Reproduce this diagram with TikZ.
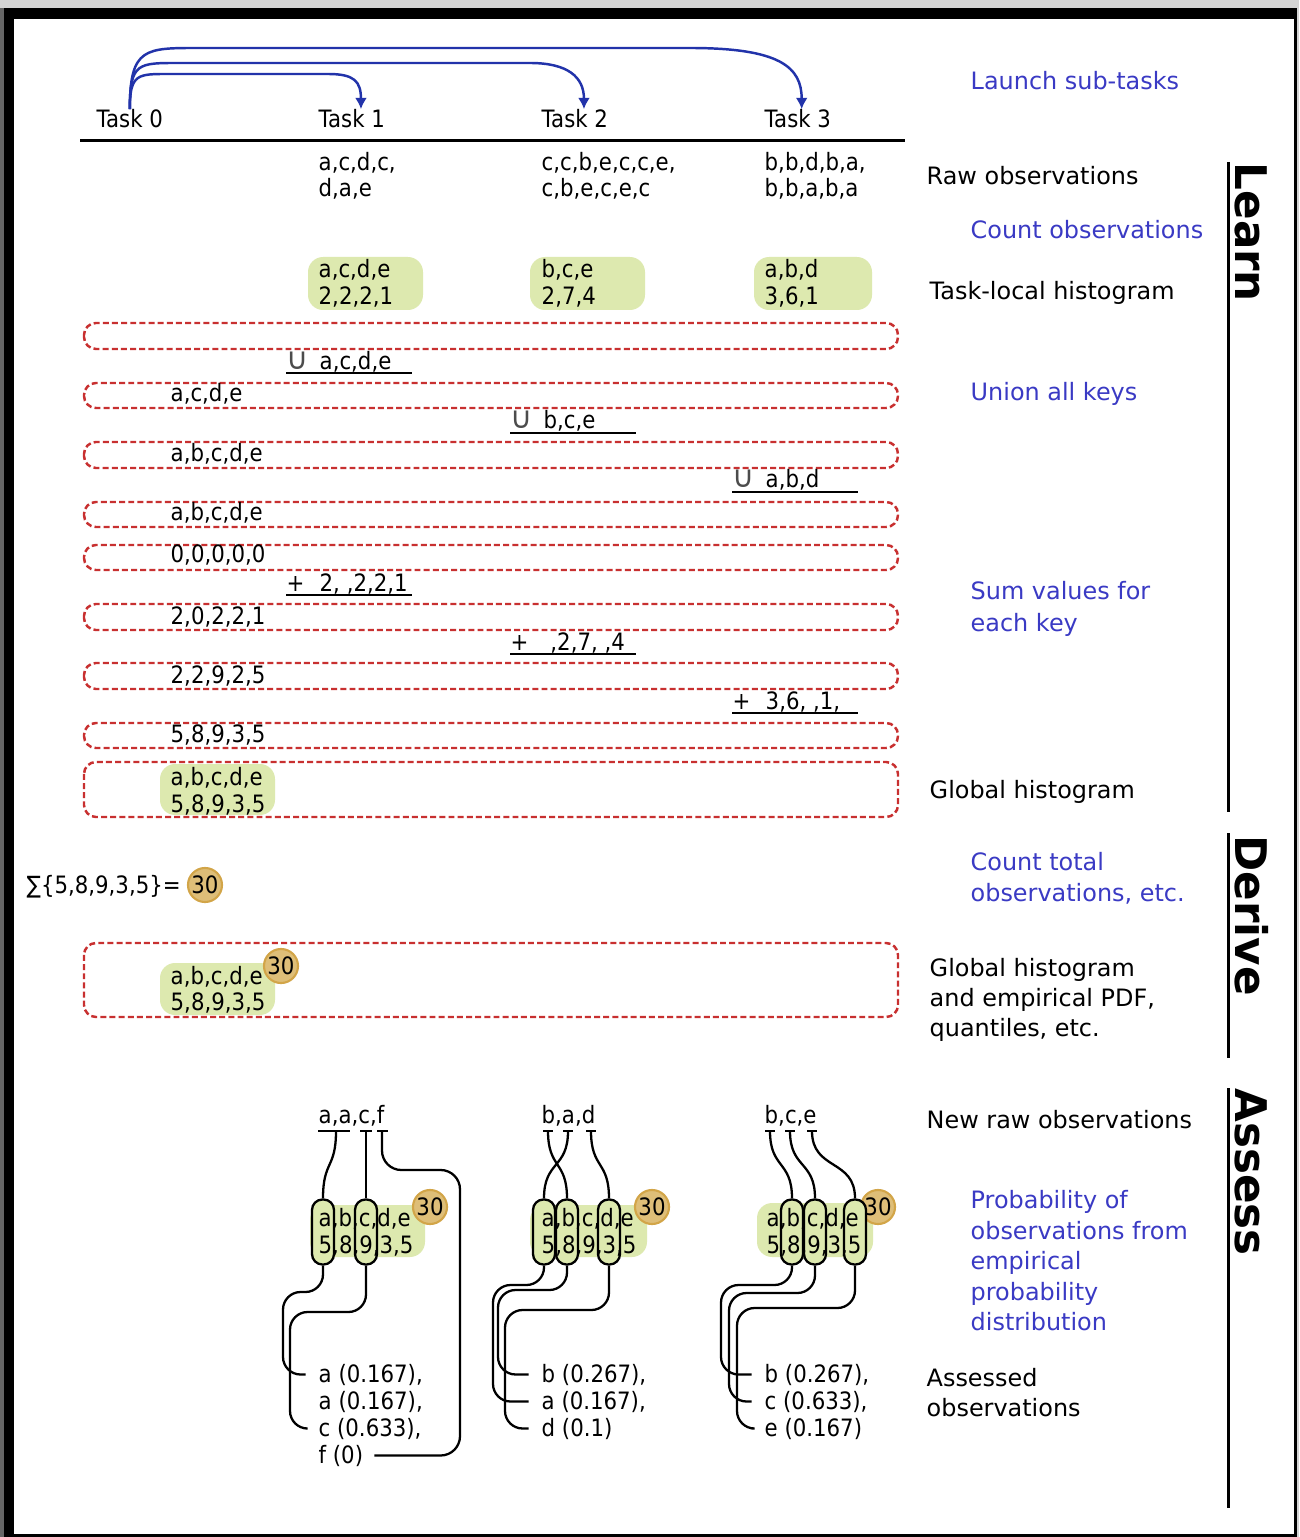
\documentclass[tikz,border=0pt]{standalone}
\usepackage{fontspec}
\setmainfont{DejaVu Sans}
\newfontfamily\datfont[FakeStretch=0.89]{DejaVu Sans}
\usetikzlibrary{arrows.meta,calc}
\definecolor{lblue}{HTML}{3A3AC4}
\definecolor{arrblue}{HTML}{2233AA}
\definecolor{dashred}{HTML}{C83030}
\definecolor{histgreen}{HTML}{DDE9AF}
\definecolor{totfill}{HTML}{DEBE78}
\definecolor{totdraw}{HTML}{D2A548}
\definecolor{framegray}{HTML}{D4D4D4}

\begin{document}
\begin{tikzpicture}[x=0.01cm, y=-0.01cm,
    lbl/.style={font=\fontsize{6.8}{8}\selectfont, anchor=base west, inner sep=0pt},
    blbl/.style={lbl, text=lblue},
    dat/.style={font=\datfont\fontsize{6.8}{8}\selectfont, anchor=base west, inner sep=0pt},
    cup/.style={font=\fontsize{8.6}{9}\selectfont, text=black!70, anchor=base west, inner sep=0pt},
    sect/.style={font=\bfseries\fontsize{12.4}{14}\selectfont, anchor=base west, inner sep=0pt, rotate=-90},
    launch/.style={arrblue, line width=0.7pt, -{Latex[length=3.2pt,width=3.4pt]}},
    rowbox/.style={dashred, line width=0.7pt, dash pattern=on 1.7pt off 0.9pt, rounded corners=3.4pt},
    histbox/.style={fill=histgreen, rounded corners=4.3pt},
    tot/.style={circle, fill=totfill, draw=totdraw, line width=0.6pt, minimum size=0.34cm, inner sep=0pt, font=\datfont\fontsize{6.8}{8}\selectfont},
    oval/.style={draw, fill=histgreen, line width=0.65pt, rounded corners=0.105cm, minimum width=0.22cm, minimum height=0.65cm, inner sep=0pt},
    wire/.style={line width=0.65pt},
    opline/.style={line width=0.85pt}]
    \fill[framegray] (0,0) rectangle (1299,1537);
    \fill[black!60] (0,8) rectangle (4,1537);
    \fill[black] (4,8) rectangle (1297,1537);
    \fill[white] (14,19) rectangle (1294,1534);
    \useasboundingbox (0,0) rectangle (1299,1537);

    % tasks
    \node[dat] (t0) at (96,128) {Task 0};
    \node[dat] (t1) at (318,128) {Task 1};
    \node[dat] (t2) at (541,128) {Task 2};
    \node[dat] (t3) at (764,128) {Task 3};
    \draw[opline] (80,141) -- (905,141);
    \draw[launch] (t0.north) .. controls +(0,-36) and +(-32,0) .. (170,74) -- (328,74) .. controls +(26,0) and +(0,-28) .. ([xshift=2.6pt]t1.north);
    \draw[launch] (t0.north) .. controls +(0,-47) and +(-42,0) .. (180,63) -- (530,63) .. controls +(38,0) and +(0,-32) .. ([xshift=2.6pt]t2.north);
    \draw[launch] (t0.north) .. controls +(0,-62) and +(-55,0) .. (200,48) -- (690,48) .. controls +(90,0) and +(0,-42) .. ([xshift=1.1pt]t3.north);

    \node[dat] (raw1a) at (318,171) {a,c,d,c,};
    \node[dat] (raw1b) at (318,197) {d,a,e};
    \node[dat] (raw2a) at (541,171) {c,c,b,e,c,c,e,};
    \node[dat] (raw2b) at (541,197) {c,b,e,c,e,c};
    \node[dat] (raw3a) at (764,171) {b,b,d,b,a,};
    \node[dat] (raw3b) at (764,197) {b,b,a,b,a};

    \fill[histbox] (308,257) rectangle (423,310);
    \node[dat] (loc1k) at (318,278) {a,c,d,e};
    \node[dat] (loc1v) at (318,305) {2,2,2,1};
    \fill[histbox] (530,257) rectangle (645,310);
    \node[dat] (loc2k) at (541,278) {b,c,e};
    \node[dat] (loc2v) at (541,305) {2,7,4};
    \fill[histbox] (754,257) rectangle (872,310);
    \node[dat] (loc3k) at (764,278) {a,b,d};
    \node[dat] (loc3v) at (764,305) {3,6,1};

    % merge steps
    \foreach \ya/\yb in {323/349, 383/408, 442/468, 502/527, 545/570, 604/630, 663/689, 723/748, 762/817, 943/1017}
      \draw[rowbox] (84,\ya) rectangle (898,\yb);
    \node[dat] (acc1) at (170,402) {a,c,d,e};
    \node[dat] (acc2) at (170,462) {a,b,c,d,e};
    \node[dat] (acc3) at (170,521) {a,b,c,d,e};
    \node[dat] (acc4) at (170,563) {0,0,0,0,0};
    \node[dat] (acc5) at (170,624) {2,0,2,2,1};
    \node[dat] (acc6) at (170,683) {2,2,9,2,5};
    \node[dat] (acc7) at (170,742) {5,8,9,3,5};

    \node[cup] (un1) at (286,370) {∪};
    \node[dat] (un1k) at (319,370) {a,c,d,e};
    \draw[opline] (286,373) -- (412,373);
    \node[cup] (un2) at (510,429) {∪};
    \node[dat] (un2k) at (543,429) {b,c,e};
    \draw[opline] (510,433) -- (636,433);
    \node[cup] (un3) at (732,488) {∪};
    \node[dat] (un3k) at (765,488) {a,b,d};
    \draw[opline] (732,492) -- (858,492);
    \node[dat] (add1) at (286,591) {+};
    \node[dat] (add1v) at (319,591) {2,\ ,2,2,1};
    \draw[opline] (286,595) -- (412,595);
    \node[dat] (add2) at (510,650) {+};
    \node[dat] (add2v) at (543,650) {\ ,2,7,\ ,4};
    \draw[opline] (510,654) -- (636,654);
    \node[dat] (add3) at (732,709) {+};
    \node[dat] (add3v) at (765,709) {3,6,\ ,1,};
    \draw[opline] (732,713) -- (858,713);

    \fill[histbox] (160,764) rectangle (275,815);
    \node[dat] (glob1k) at (170,785) {a,b,c,d,e};
    \node[dat] (glob1v) at (170,812) {5,8,9,3,5};
    \node[dat] (sumtxt) at (26,893) {∑\{5,8,9,3,5\}=};
    \node[tot] (tot0) at (205,885) {30};
    \fill[histbox] (160,963) rectangle (275,1015);
    \node[dat] (glob2k) at (170,984) {a,b,c,d,e};
    \node[dat] (glob2v) at (170,1010) {5,8,9,3,5};
    \node[tot] (tot1) at (281,966) {30};

    % assess, task 1
    \node[dat] (new1) at (318,1123) {a,a,c,f};
    \draw[wire] (318,1131) -- (350,1131) (360,1131) -- (372,1131) (377,1131) -- (388,1131);
    \coordinate (n1a) at (336,1131);
    \coordinate (n1c) at (366,1131);
    \coordinate (n1f) at (382,1131);
    \fill[histbox] (310,1205) rectangle (425,1257);
    \node[tot] (tot2) at (430,1207) {30};
    \node[oval] (k1a) at (323,1232) {};
    \node[oval] (k1c) at (366,1232) {};
    \node[dat] (hk1) at (318,1226) {a,b,c,d,e};
    \node[dat] (hv1) at (318,1253) {5,8,9,3,5};
    \node[dat] (o1a) at (318,1382) {a (0.167),};
    \node[dat] (o1b) at (318,1409) {a (0.167),};
    \node[dat] (o1c) at (318,1436) {c (0.633),};
    \node[dat] (o1f) at (318,1463) {f (0)};
    \draw[wire] (n1a) .. controls +(0,38) and +(0,-38) .. (k1a.north);
    \draw[wire] (n1c) -- (k1c.north);
    \draw[wire, rounded corners=5.5pt] (n1f) |- (460,1170) |- ([xshift=3pt]o1f.east);
    \draw[wire, rounded corners=5pt] (k1a.south) |- (283,1292) |- ([xshift=-3.5pt]o1a.west);
    \draw[wire, rounded corners=5pt] (k1c.south) |- (290,1312) |- ([xshift=-3.5pt]o1c.west);

    % assess, task 2
    \node[dat] (new2) at (541,1123) {b,a,d};
    \draw[wire] (543,1131) -- (553,1131) (563,1131) -- (573,1131) (586,1131) -- (596,1131);
    \coordinate (n2b) at (548,1131);
    \coordinate (n2a) at (568,1131);
    \coordinate (n2d) at (591,1131);
    \fill[histbox] (530,1205) rectangle (647,1257);
    \node[tot] (tot3) at (652,1207) {30};
    \node[oval] (k2a) at (544,1232) {};
    \node[oval] (k2b) at (567,1232) {};
    \node[oval] (k2d) at (609,1232) {};
    \node[dat] (hk2) at (541,1226) {a,b,c,d,e};
    \node[dat] (hv2) at (541,1253) {5,8,9,3,5};
    \node[dat] (o2b) at (541,1382) {b (0.267),};
    \node[dat] (o2a) at (541,1409) {a (0.167),};
    \node[dat] (o2d) at (541,1436) {d (0.1)};
    \draw[wire] (n2b) .. controls +(0,38) and +(0,-38) .. (k2b.north);
    \draw[wire] (n2a) .. controls +(0,38) and +(0,-38) .. (k2a.north);
    \draw[wire] (n2d) .. controls +(0,38) and +(0,-38) .. (k2d.north);
    \draw[wire, rounded corners=5pt] (k2a.south) |- (493,1285) |- ([xshift=-3.5pt]o2a.west);
    \draw[wire, rounded corners=5pt] (k2b.south) |- (498,1290) |- ([xshift=-3.5pt]o2b.west);
    \draw[wire, rounded corners=5pt] (k2d.south) |- (505,1310) |- ([xshift=-3.5pt]o2d.west);

    % assess, task 3
    \node[dat] (new3) at (764,1123) {b,c,e};
    \draw[wire] (765,1131) -- (775,1131) (785,1131) -- (795,1131) (807,1131) -- (817,1131);
    \coordinate (n3b) at (770,1131);
    \coordinate (n3c) at (790,1131);
    \coordinate (n3e) at (812,1131);
    \fill[histbox] (757,1203) rectangle (873,1257);
    \node[tot] (tot4) at (878,1207) {30};
    \node[oval] (k3b) at (792,1232) {};
    \node[oval] (k3c) at (815,1232) {};
    \node[oval] (k3e) at (855,1232) {};
    \node[dat] (hk3) at (766,1226) {a,b,c,d,e};
    \node[dat] (hv3) at (766,1253) {5,8,9,3,5};
    \node[dat] (o3b) at (764,1382) {b (0.267),};
    \node[dat] (o3c) at (764,1409) {c (0.633),};
    \node[dat] (o3e) at (764,1436) {e (0.167)};
    \draw[wire] (n3b) .. controls +(0,38) and +(0,-38) .. (k3b.north);
    \draw[wire] (n3c) .. controls +(0,38) and +(0,-38) .. (k3c.north);
    \draw[wire] (n3e) .. controls +(0,40) and +(0,-40) .. (k3e.north);
    \draw[wire, rounded corners=5pt] (k3b.south) |- (721,1285) |- ([xshift=-3.5pt]o3b.west);
    \draw[wire, rounded corners=5pt] (k3c.south) |- (729,1293) |- ([xshift=-3.5pt]o3c.west);
    \draw[wire, rounded corners=5pt] (k3e.south) |- (737,1308) |- ([xshift=-3.5pt]o3e.west);

    % right column
    \node[blbl] (launch) at (970,90) {Launch sub-tasks};
    \node[lbl] (rawlbl) at (926,185) {Raw observations};
    \node[blbl] (countlbl) at (970,239) {Count observations};
    \node[lbl] (loclbl) at (929,300) {Task-local histogram};
    \node[blbl] (unionlbl) at (970,401) {Union all keys};
    \node[blbl] (suma) at (970,600) {Sum values for};
    \node[blbl] (sumb) at (970,631) {each key};
    \node[lbl] (globlbl) at (929,798) {Global histogram};
    \node[blbl] (tota) at (970,870) {Count total};
    \node[blbl] (totb) at (970,901) {observations, etc.};
    \node[lbl] (pdfa) at (929,976) {Global histogram};
    \node[lbl] (pdfb) at (929,1006) {and empirical PDF,};
    \node[lbl] (pdfc) at (929,1036) {quantiles, etc.};
    \node[lbl] (newlbl) at (926,1128) {New raw observations};
    \node[blbl] (proba) at (970,1208) {Probability of};
    \node[blbl] (probb) at (970,1239) {observations from};
    \node[blbl] (probc) at (970,1269) {empirical};
    \node[blbl] (probd) at (970,1300) {probability};
    \node[blbl] (probe) at (970,1330) {distribution};
    \node[lbl] (assa) at (926,1386) {Assessed};
    \node[lbl] (assb) at (926,1416) {observations};

    \node[sect] (learn) at (1235,162) {Learn};
    \node[sect] (derive) at (1235,835) {Derive};
    \node[sect] (assess) at (1235,1088) {Assess};
    \draw[opline] (1228,162) -- (1228,812);
    \draw[opline] (1228,833) -- (1228,1058);
    \draw[opline] (1228,1088) -- (1228,1508);
\end{tikzpicture}
\end{document}
